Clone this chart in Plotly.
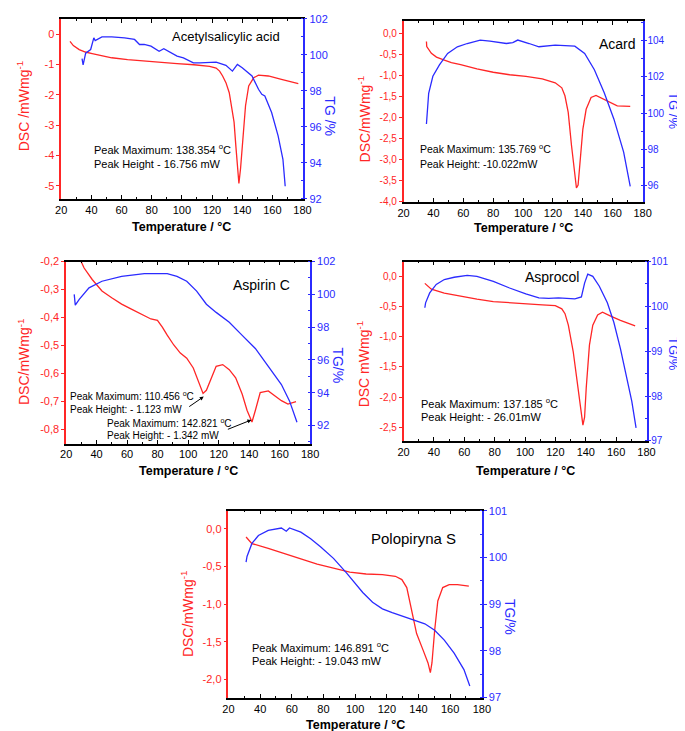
import plotly.graph_objects as go

# ---------------- data ----------------
# Panel 1: Acetylsalicylic acid
p1_dsc_T = [25.8, 28, 31.9, 36, 40.5, 47, 53.5, 64, 75, 86, 96.8, 108, 118.4, 122.7, 125, 127, 129.2, 131.4, 133, 134.6,
            135.8, 136.8, 137.8, 138.9, 140, 141, 142.2, 144.3, 147.6, 150.8, 157.3, 166, 177.2]
p1_dsc = [-0.24, -0.38, -0.51, -0.59, -0.64, -0.71, -0.78, -0.84, -0.89, -0.93, -0.97, -1.01, -1.06, -1.12, -1.22, -1.38,
          -1.6, -1.93, -2.35, -2.9, -3.7, -4.43, -4.92, -4.43, -3.67, -2.95, -2.36, -1.71, -1.44, -1.35, -1.38, -1.49, -1.63]
p1_tg_T = [33.8, 34.5, 36.2, 39.5, 41.6, 42.5, 47, 53.5, 62, 68.6, 71.9, 75, 79.5, 84.9, 88, 96.8, 101, 107.6, 112, 122.7,
           129.2, 133.5, 136.8, 140, 146.5, 150.8, 153, 155, 159.5, 163.8, 167, 168.5]
p1_tg = [99.8, 99.45, 100.1, 100.3, 100.95, 100.8, 101.0, 101.0, 100.95, 100.86, 100.58, 100.58, 100.49, 100.2, 100.34,
         99.93, 99.84, 99.56, 99.56, 99.6, 99.42, 99.1, 99.47, 99.29, 98.83, 98.09, 97.81, 97.72, 96.8, 95.5, 94.2, 92.7]

# Panel 2: Acard
p2_dsc_T = [35.3, 35.5, 38.6, 42, 47.3, 52, 58.2, 69.1, 80, 91, 101.9, 112.8, 121.5, 125.9, 128, 130.2, 132.4, 134.6,
            135.7, 136.8, 137.9, 140, 142.2, 145.5, 148.8, 154.3, 158.6, 163, 171.7]
p2_dsc = [-0.19, -0.31, -0.47, -0.56, -0.63, -0.69, -0.74, -0.84, -0.92, -0.98, -1.02, -1.08, -1.17, -1.29, -1.48, -1.875,
          -2.66, -3.36, -3.67, -3.6, -3.2, -2.27, -1.8, -1.52, -1.47, -1.56, -1.64, -1.72, -1.73]
p2_tg_T = [35.3, 35.6, 35.9, 36.8, 39.6, 44, 49.5, 56, 62.6, 71.3, 77.8, 88.8, 93.1, 96.4, 104, 110.6, 121.5, 134.6,
           141.2, 147.7, 154.3, 160.8, 167.3, 171.7]
p2_tg = [99.4, 99.9, 100.2, 101.1, 102.04, 102.67, 103.3, 103.67, 103.85, 104.04, 103.98, 103.85, 103.9, 104.04, 103.85,
         103.67, 103.76, 103.7, 103.3, 102.4, 101.13, 99.67, 97.85, 95.95]

# Panel 3: Aspirin C
p3_dsc_T = [29.0, 31.8, 37.1, 43.5, 49.9, 56.4, 62.8, 69.2, 75.6, 79.9, 83.1, 86.3, 90.6, 94.9, 99.1, 103.4, 106.6, 109.8,
            112, 115.2, 118.4, 122.7, 127, 131.2, 135.5, 138.7, 141.9, 144.1, 147.3, 152.6, 156.9, 161.2, 165.5, 170.8]
p3_dsc = [-0.19, -0.223, -0.264, -0.305, -0.329, -0.352, -0.37, -0.387, -0.405, -0.41, -0.434, -0.463, -0.498, -0.527,
          -0.545, -0.58, -0.627, -0.671, -0.66, -0.615, -0.574, -0.568, -0.586, -0.615, -0.674, -0.732, -0.773, -0.732,
          -0.668, -0.662, -0.68, -0.697, -0.709, -0.7]
p3_tg_T = [25.3, 26.0, 28.6, 35, 43.5, 56.4, 71.3, 86.3, 92.7, 99.1, 105.6, 112, 118.4, 127, 135.5, 144.1, 152.6, 161.2,
           166.5, 171.4]
p3_tg = [100.0, 99.34, 99.7, 100.4, 100.8, 101.1, 101.26, 101.26, 101.1, 100.8, 100.2, 99.4, 98.9, 98.3, 97.5, 96.7,
         95.6, 94.5, 93.5, 92.2]

# Panel 4: Asprocol
p4_dsc_T = [34, 38.3, 46.8, 57.6, 68.3, 79.1, 89.8, 100.5, 111.3, 119.9, 124.2, 126.3, 128.5, 131.7, 134.9, 137.1, 138.1,
            139.2, 140.3, 142.4, 144.6, 147.8, 151, 156.4, 162.8, 172.5]
p4_dsc = [-0.12, -0.216, -0.28, -0.335, -0.38, -0.42, -0.44, -0.465, -0.476, -0.487, -0.54, -0.62, -0.81, -1.245, -1.84,
          -2.27, -2.46, -2.33, -1.84, -1.14, -0.81, -0.64, -0.595, -0.66, -0.73, -0.82]
p4_tg_T = [34, 34.5, 37.2, 41.5, 46.8, 53.3, 61.9, 68.3, 79.1, 89.8, 100.5, 109.1, 115.6, 122, 132.8, 137.1, 139.2, 141.3,
           144.6, 148.9, 154.2, 158.5, 162.8, 167.1, 170.3, 173.1]
p4_tg = [99.97, 100.08, 100.3, 100.49, 100.6, 100.65, 100.69, 100.67, 100.56, 100.41, 100.28, 100.19, 100.18, 100.19,
         100.17, 100.21, 100.52, 100.72, 100.67, 100.45, 100.08, 99.64, 99.06, 98.39, 97.88, 97.29]

# Panel 5: Polopiryna S
p5_dsc_T = [31.1, 34.8, 45.1, 55.4, 65.7, 76, 86.3, 96.6, 106.9, 117.2, 125.4, 129.5, 132.6, 135.7, 138.8, 142.9, 146,
            147.5, 148.5, 150.2, 152.2, 155.3, 159.4, 164.6, 171.8]
p5_dsc = [-0.109, -0.196, -0.26, -0.326, -0.4, -0.47, -0.52, -0.574, -0.6, -0.609, -0.63, -0.674, -0.78, -1.087, -1.39,
          -1.61, -1.78, -1.91, -1.78, -1.35, -0.957, -0.78, -0.74, -0.74, -0.76]
p5_tg_T = [31.1, 31.7, 34.8, 38.9, 45.1, 53.4, 56.5, 58.5, 65.7, 71.9, 78.1, 86.3, 94.5, 100.7, 104.8, 111, 117.2, 123.4,
           131.6, 137.8, 144, 150.2, 156.3, 162.5, 168.7, 172.4]
p5_tg = [99.9, 100.02, 100.3, 100.47, 100.58, 100.63, 100.56, 100.63, 100.54, 100.4, 100.23, 99.98, 99.67, 99.42, 99.25,
         99.04, 98.9, 98.82, 98.72, 98.65, 98.58, 98.44, 98.23, 97.95, 97.6, 97.25]

# tick labels
x_ticks = [20, 40, 60, 80, 100, 120, 140, 160, 180]
p1_dsc_ticks = [0, -1, -2, -3, -4, -5]
p1_dsc_labels = ["0", "-1", "-2", "-3", "-4", "-5"]
p2_dsc_ticks = [0, -0.5, -1.0, -1.5, -2.0, -2.5, -3.0, -3.5, -4.0]
p2_dsc_labels = ["0,0", "-0,5", "-1,0", "-1,5", "-2,0", "-2,5", "-3,0", "-3,5", "-4,0"]
p3_dsc_ticks = [-0.2, -0.3, -0.4, -0.5, -0.6, -0.7, -0.8]
p3_dsc_labels = ["-0,2", "-0,3", "-0,4", "-0,5", "-0,6", "-0,7", "-0,8"]
p4_dsc_ticks = [0, -0.5, -1.0, -1.5, -2.0, -2.5]
p4_dsc_labels = ["0,0", "-0,5", "-1,0", "-1,5", "-2,0", "-2,5"]
p5_dsc_ticks = [0, -0.5, -1.0, -1.5, -2.0]
p5_dsc_labels = ["0,0", "-0,5", "-1,0", "-1,5", "-2,0"]
p1_tg_ticks = [92, 94, 96, 98, 100, 102]
p2_tg_ticks = [96, 98, 100, 102, 104]
p3_tg_ticks = [92, 94, 96, 98, 100, 102]
p4_tg_ticks = [97, 98, 99, 100, 101]
p5_tg_ticks = [97, 98, 99, 100, 101]

names = ["Acetylsalicylic acid", "Acard", "Aspirin C", "Asprocol", "Polopiryna S"]

# ---------------- layout helpers ----------------
W, H = 685, 731
def fx(p):
    return p / W
def fy(p):
    return 1 - p / H

RED = "#ff2626"
BLUE = "#2b2bff"
FONT = "Liberation Sans, Arial, sans-serif"

panels = [
    dict(T1=p1_dsc_T, d=p1_dsc, T2=p1_tg_T, t=p1_tg, px=(48.3, 295), py=(5, 188), dr=[-5.43, 0.5], tr=[92, 102],
         dt=p1_dsc_ticks, dl=p1_dsc_labels, tt=p1_tg_ticks, tminor=1, fs=11, so=0),
    dict(T1=p2_dsc_T, d=p2_dsc, T2=p2_tg_T, t=p2_tg, px=(398.3, 642.7), py=(7, 191), dr=[-4.0, 0.3], tr=[95.1, 105.1],
         dt=p2_dsc_ticks, dl=p2_dsc_labels, tt=p2_tg_ticks, tminor=1, fs=10, so=-2),
    dict(T1=p3_dsc_T, d=p3_dsc, T2=p3_tg_T, t=p3_tg, px=(53.3, 302.7), py=(251.7, 436.7), dr=[-0.85, -0.2],
         tr=[90.9, 102], dt=p3_dsc_ticks, dl=p3_dsc_labels, tt=p3_tg_ticks, tminor=1, fs=11, so=0),
    dict(T1=p4_dsc_T, d=p4_dsc, T2=p4_tg_T, t=p4_tg, px=(398.3, 646.7), py=(251.7, 434), dr=[-2.72, 0.24],
         tr=[97, 101], dt=p4_dsc_ticks, dl=p4_dsc_labels, tt=p4_tg_ticks, tminor=0.5, fs=10, so=-2),
    dict(T1=p5_dsc_T, d=p5_dsc, T2=p5_tg_T, t=p5_tg, px=(219.3, 478.3), py=(505, 695), dr=[-2.24, 0.24],
         tr=[97, 101], dt=p5_dsc_ticks, dl=p5_dsc_labels, tt=p5_tg_ticks, tminor=0.5, fs=11, so=0),
]

fig = go.Figure()
layout = dict(width=W, height=H, autosize=False, margin=dict(l=0, r=0, t=0, b=0),
              plot_bgcolor="white", paper_bgcolor="white", showlegend=False,
              font=dict(family=FONT, size=11, color="black"))

for i, p in enumerate(panels):
    k = i + 1
    xa = "x" if k == 1 else f"x{k}"
    yl_n = 2 * k - 1
    yr_n = 2 * k
    yl = "y" if yl_n == 1 else f"y{yl_n}"
    yr = f"y{yr_n}"
    fig.add_trace(go.Scatter(x=p["T1"], y=p["d"], mode="lines", line=dict(color=RED, width=1.3),
                             xaxis=xa, yaxis=yl, cliponaxis=True))
    fig.add_trace(go.Scatter(x=p["T2"], y=p["t"], mode="lines", line=dict(color=BLUE, width=1.3),
                             xaxis=xa, yaxis=yr, cliponaxis=True))
    xdom = [fx(p["px"][0]), fx(p["px"][1])]
    ydom = [fy(p["py"][1]), fy(p["py"][0])]
    layout["xaxis" if k == 1 else f"xaxis{k}"] = dict(
        domain=xdom, anchor=yl, range=[20, 180], tickvals=x_ticks, showgrid=False, zeroline=False,
        showline=True, linecolor="black", linewidth=1.5, mirror="ticks", ticks="inside", ticklen=4,
        tickcolor="black", tickfont=dict(size=11, color="black", family=FONT),
        minor=dict(ticks="inside", ticklen=2, dtick=10, tickcolor="black"))
    layout["yaxis" if yl_n == 1 else f"yaxis{yl_n}"] = dict(
        domain=ydom, anchor=xa, range=p["dr"], tickvals=p["dt"], ticktext=p["dl"], showgrid=False,
        zeroline=False, showline=True, linecolor=RED, linewidth=1.5, ticks="outside", ticklen=3,
        tickcolor=RED, tickfont=dict(size=p["fs"], color=RED, family=FONT))
    layout[f"yaxis{yr_n}"] = dict(
        domain=ydom, anchor=xa, overlaying=yl, side="right", range=p["tr"], tickvals=p["tt"],
        showgrid=False, zeroline=False, showline=True, linecolor=BLUE, linewidth=1.5, ticks="outside",
        ticklen=3, tickcolor=BLUE, tickfont=dict(size=p["fs"], color=BLUE, family=FONT),
        ticklabelstandoff=p["so"],
        minor=dict(ticks="inside", ticklen=2, dtick=p["tminor"], tickcolor=BLUE))

ann = []
def txt(x, y, s, size=11, color="black", xanchor="left", angle=0, bold=False):
    ann.append(dict(x=fx(x), y=fy(y), xref="paper", yref="paper", text=(f"<b>{s}</b>" if bold else s),
                    showarrow=False, xanchor=xanchor, yanchor="middle", textangle=angle,
                    font=dict(family=FONT, size=size, color=color)))

# titles
txt(159, 23, names[0], 13)
txt(596, 30, names[1], 14)
txt(222, 276, names[2], 14)
txt(520, 267, names[3], 14)
txt(363, 533, names[4], 15)

# x-axis titles
for cx, cy in [(171.7, 217), (520.5, 218), (178, 465), (522.5, 465), (348.8, 723)]:
    txt(cx, cy, "Temperature / °C", 12.5, xanchor="center", bold=True)

# y-axis titles
DSC = "mWmg<sup>-1</sup>"
txt(10, 94, "DSC /" + DSC, 14, RED, "center", -90)
txt(323, 104, "TG /%", 14, BLUE, "center", 90)
txt(358, 107, "DSC/" + DSC, 14, RED, "center", -90)
txt(674, 98, "TG /%", 13, BLUE, "center", 90)
txt(10, 353, "DSC/" + DSC, 14, RED, "center", -90)
txt(331, 357, "TG/%", 14, BLUE, "center", 90)
txt(357, 356, "DSC " + DSC, 14, RED, "center", -90)
txt(674, 346, "TG/%", 13, BLUE, "center", 90)
txt(177, 610, "DSC/" + DSC, 14, RED, "center", -90)
txt(507, 613, "TG/%", 14, BLUE, "center", 90)

# peak annotations
DEG = "<sup>o</sup>C"
txt(80, 137, "Peak Maximum: 138.354 " + DEG, 11)
txt(80, 152, "Peak Height - 16.756 mW", 11)
txt(412.7, 137, "Peak Maximum: 135.769 " + DEG, 10.5)
txt(412.7, 152, "Peak Height: -10.022mW", 10.5)
txt(55, 388, "Peak Maximum: 110.456 " + DEG, 10)
txt(55, 402, "Peak Height: - 1.123 mW", 10)
txt(92.7, 416, "Peak Maximum: 142.821 " + DEG, 10)
txt(92.7, 429, "Peak Height: - 1.342 mW", 10)
txt(414, 396, "Peak Maximum: 137.185 " + DEG, 11)
txt(414, 410, "Peak Height: - 26.01mW", 11)
txt(241, 644, "Peak Maximum: 146.891 " + DEG, 11)
txt(241, 658, "Peak Height: - 19.043 mW", 11)

# arrows in Aspirin C panel
for hx, hy, ax, ay in [(194, 389, -16, 11), (242.7, 412.7, -25, 10)]:
    ann.append(dict(x=fx(hx), y=fy(hy), xref="paper", yref="paper", text="", showarrow=True,
                    ax=ax, ay=ay, arrowhead=2, arrowsize=0.8, arrowwidth=1, arrowcolor="black"))

layout["annotations"] = ann
fig.update_layout(**layout)
fig.write_html("out.html")
